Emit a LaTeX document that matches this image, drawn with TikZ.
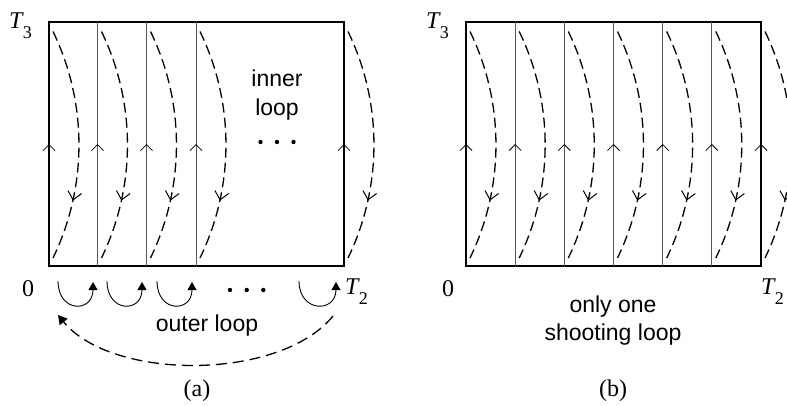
\documentclass[tikz,border=0pt]{standalone}
\usepackage{fontspec}
\setmainfont{Liberation Serif}
\setsansfont{Liberation Sans}
\usetikzlibrary{arrows.meta,decorations.markings}
\begin{document}
\begin{tikzpicture}[x=1pt,y=-1pt,
  frame/.style={line width=1.9pt},
  divider/.style={line width=0.9pt, black!65},
  upmark/.style={postaction={decorate}, decoration={markings,
      mark=at position 0.5 with {\arrow{Straight Barb[length=6pt,width=12pt,line width=0.8pt]}}}},
  dasharc/.style={line width=1.3pt, dash pattern=on 10pt off 5pt,
      postaction={decorate}, decoration={markings,
      mark=at position 0.74 with {\arrow{Straight Barb[length=8pt,width=14pt,line width=1pt]}}}},
  loopfont/.style={font=\sffamily\fontsize{23}{27}\selectfont, inner sep=0pt},
  numfont/.style={font=\fontsize{24}{28}\selectfont, inner sep=0pt},
  smallloop/.style={line width=0.9pt, -{Triangle[length=8pt,width=9pt]}},
  outerloop/.style={line width=1.3pt, dash pattern=on 11pt off 6pt, -{Triangle[length=9pt,width=10pt]}},
  dotstyle/.style={circle, fill=black, inner sep=0pt, minimum size=4.4pt}
]
\useasboundingbox (0,0) rectangle (787,405);
\newcommand{\Tlab}[1]{\textit{T}\kern-1pt\raisebox{-10pt}{\fontsize{18}{18}\selectfont #1}}

% ---------------- panel (a) ----------------
\coordinate (aSW) at (49,266);
\coordinate (aNE) at (344,22);
\draw[frame] (aSW) rectangle (aNE);
\foreach \x [count=\i] in {97.5,146.5,196} {
  \coordinate (adb\i) at (\x,266);
  \coordinate (adt\i) at (\x,22);
  \draw[divider] (adb\i) -- (adt\i);
}
\foreach \x [count=\i] in {49,97.5,146.5,196,344} {
  \coordinate (amb\i) at (\x,266);
  \coordinate (amt\i) at (\x,22);
  \path[upmark] (amb\i) -- (amt\i);
}
\foreach \x [count=\i] in {53,101.5,150.5,200,348} {
  \coordinate (aas\i) at (\x,31.5);
  \coordinate (aae\i) at (\x,258);
  \draw[dasharc] (aas\i) .. controls +(34.6,71.3) and +(34.6,-71.3) .. (aae\i);
}
\node[numfont, anchor=base west] (aT3) at (9,28.5) {\Tlab{3}};
\node[loopfont, anchor=base] (ainner) at (277,86.7) {inner};
\node[loopfont, anchor=base] (aloop) at (277,115) {loop};
\foreach \x [count=\i] in {260.5,277,293.5} {
  \node[dotstyle] (aid\i) at (\x,142) {};
}
\node[numfont, anchor=base] (a0) at (28,296.5) {0};
\node[numfont, anchor=base west] (aT2) at (345,294.5) {\Tlab{2}};
\foreach \s/\e [count=\i] in {58/93,107/142,157/192,299/336} {
  \coordinate (asl\i) at (\s,281);
  \coordinate (ael\i) at (\e,282);
  \draw[smallloop] (asl\i) .. controls +(0,32) and +(0,31) .. (ael\i);
}
\foreach \x [count=\i] in {230,246.7,263.3} {
  \node[dotstyle] (abd\i) at (\x,290) {};
}
\node[loopfont, anchor=base] (aouter) at (207,331.5) {outer loop};
\coordinate (aoR) at (333,316);
\coordinate (aoL) at (58,315);
\draw[outerloop] (aoR) .. controls (280,381) and (112,381) .. (aoL);
\node[numfont, anchor=base] (acap) at (197,396) {(a)};

% ---------------- panel (b) ----------------
\coordinate (bSW) at (466,266);
\coordinate (bNE) at (761,22);
\draw[frame] (bSW) rectangle (bNE);
\foreach \x [count=\i] in {515.2,564.3,613.5,662.7,711.8} {
  \coordinate (bdb\i) at (\x,266);
  \coordinate (bdt\i) at (\x,22);
  \draw[divider] (bdb\i) -- (bdt\i);
}
\foreach \x [count=\i] in {466,515.2,564.3,613.5,662.7,711.8,761} {
  \coordinate (bmb\i) at (\x,266);
  \coordinate (bmt\i) at (\x,22);
  \path[upmark] (bmb\i) -- (bmt\i);
}
\begin{scope}
\clip (0,0) rectangle (787,405);
\foreach \x [count=\i] in {470,519.2,568.3,617.5,666.7,715.8,765} {
  \coordinate (bas\i) at (\x,31.5);
  \coordinate (bae\i) at (\x,258);
  \draw[dasharc] (bas\i) .. controls +(34.6,71.3) and +(34.6,-71.3) .. (bae\i);
}
\end{scope}
\node[numfont, anchor=base west] (bT3) at (426,28.5) {\Tlab{3}};
\node[numfont, anchor=base] (b0) at (448,296.5) {0};
\node[numfont, anchor=base west] (bT2) at (761,294.5) {\Tlab{2}};
\node[loopfont, anchor=base] (bonly) at (613,312) {only one};
\node[loopfont, anchor=base] (bshoot) at (613,340) {shooting loop};
\node[numfont, anchor=base] (bcap) at (613,396) {(b)};
\end{tikzpicture}
\end{document}
